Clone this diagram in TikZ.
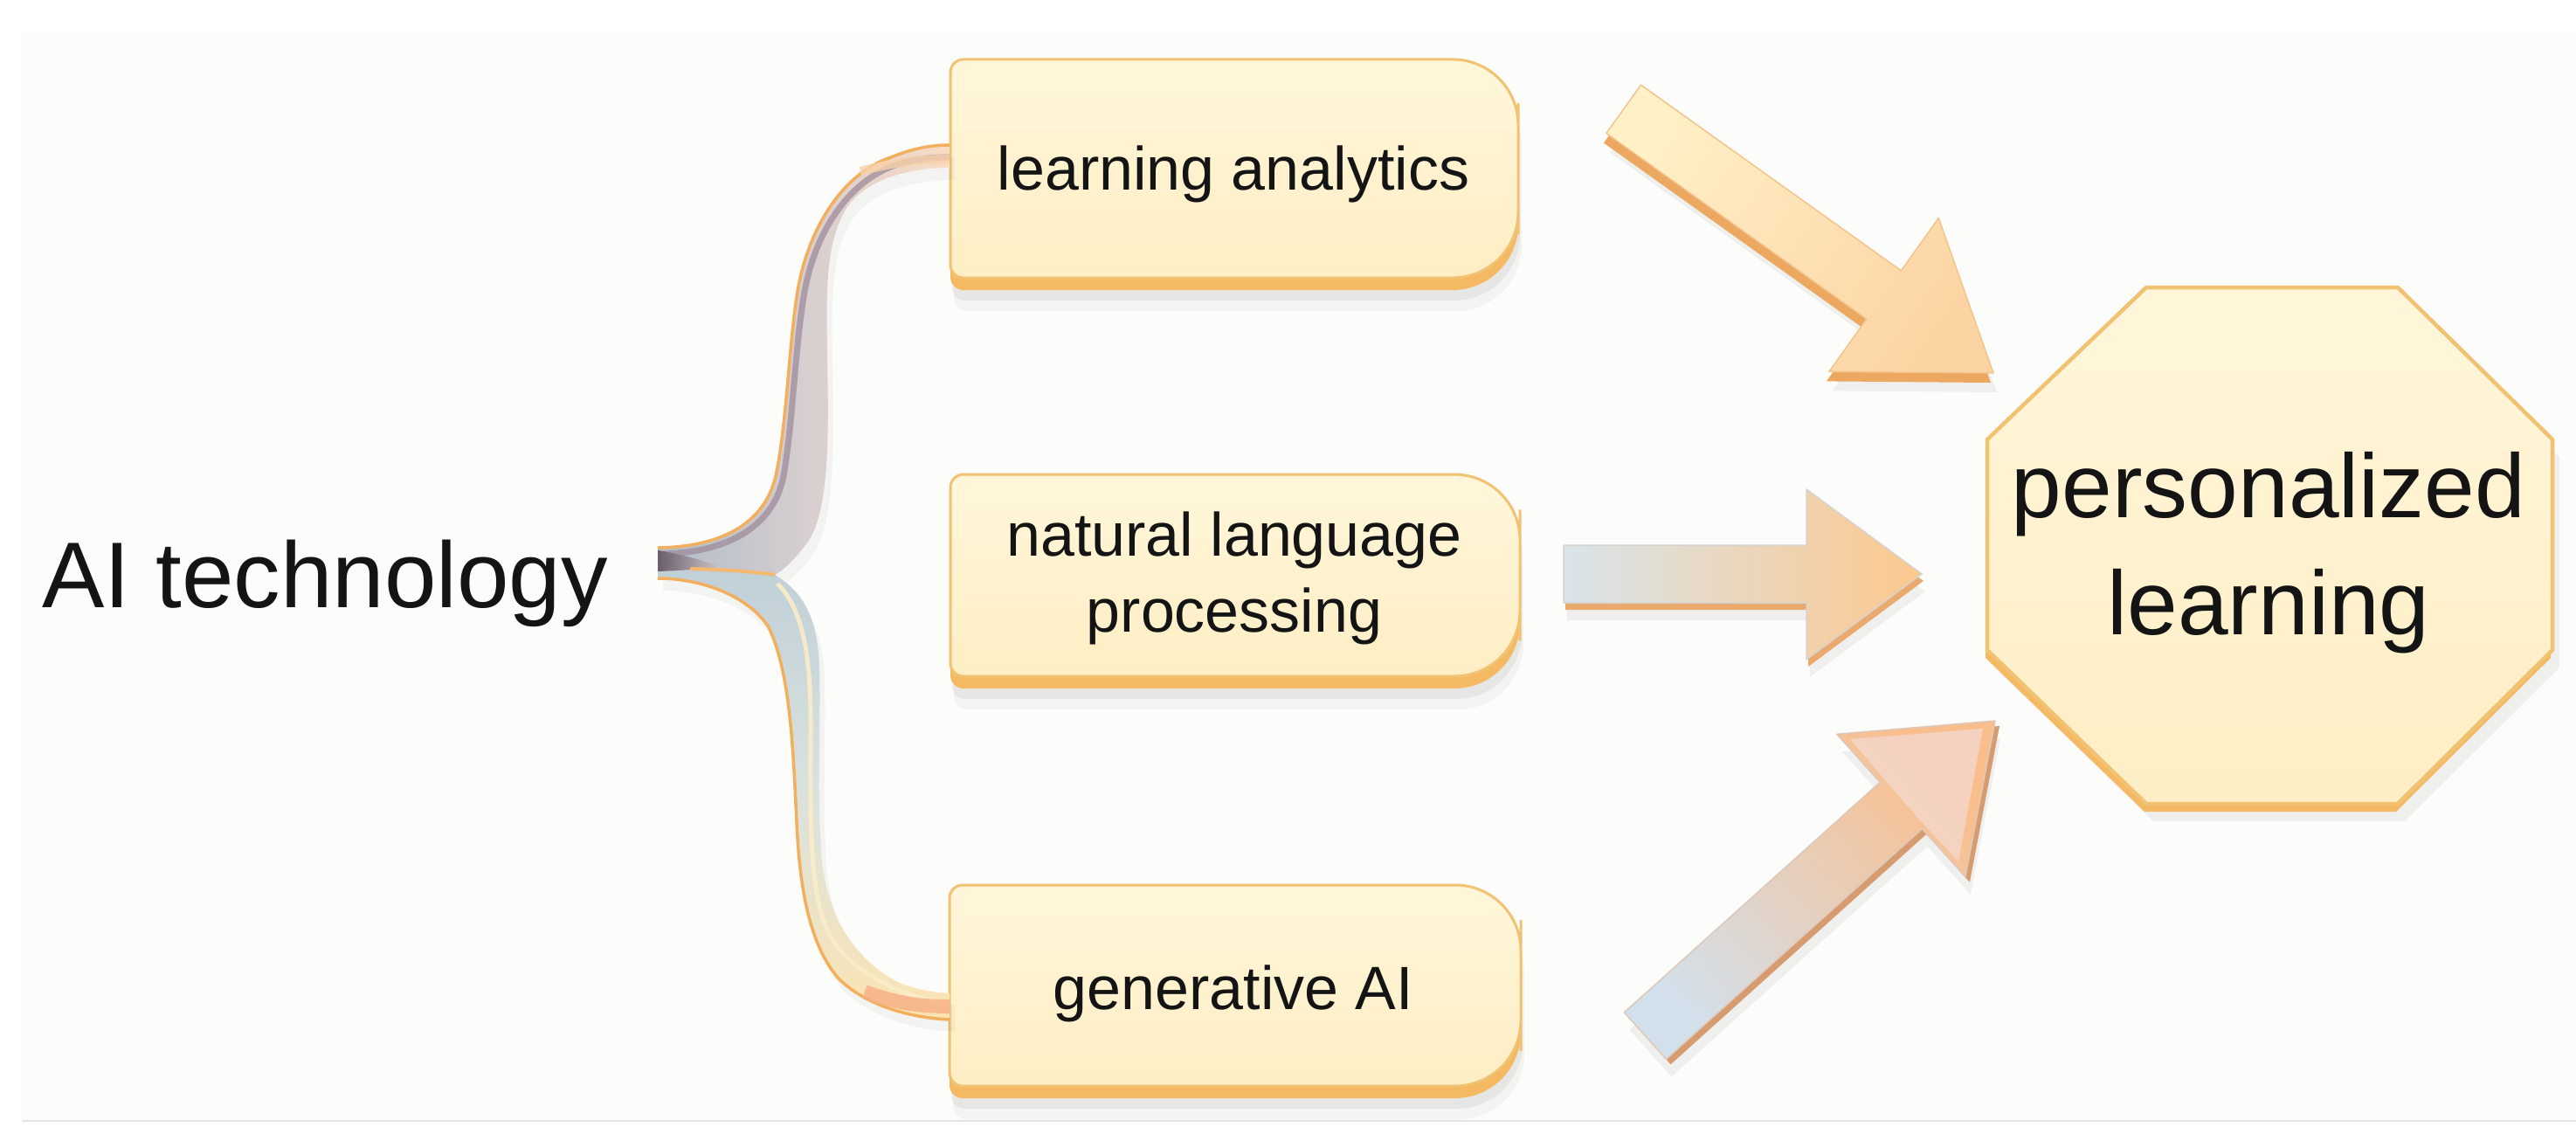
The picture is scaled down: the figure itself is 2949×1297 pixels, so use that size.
\documentclass[tikz,border=0pt]{standalone}
\usepackage{fontspec}
\setmainfont{Liberation Sans}
\usetikzlibrary{calc}
\definecolor{bgtint}{HTML}{FCFCFB}
\definecolor{bline}{HTML}{E3E3E3}
\definecolor{txt}{HTML}{141414}
\definecolor{facetop}{HTML}{FFF6DA}
\definecolor{facebot}{HTML}{FEEEC4}
\definecolor{faceedge}{HTML}{F0C272}
\definecolor{facebase}{HTML}{F6B963}
\definecolor{facehl}{HTML}{FFFBEF}
\definecolor{ribor}{HTML}{F2B05E}
\definecolor{ribAl}{RGB}{176,188,200}
\definecolor{ribAm}{RGB}{214,206,208}
\definecolor{ribAr}{RGB}{248,220,196}
\definecolor{ribBt}{RGB}{192,208,216}
\definecolor{ribBm}{RGB}{218,226,222}
\definecolor{ribBb}{RGB}{252,228,178}
\definecolor{ribmauve}{RGB}{160,140,156}
\definecolor{ribcream}{RGB}{250,236,200}
\definecolor{ribsalmon}{RGB}{248,170,130}
\definecolor{ribpeach}{RGB}{250,210,170}
\definecolor{tipdark}{RGB}{105,92,108}
\definecolor{tiplight}{RGB}{214,206,210}
\definecolor{tiporange}{RGB}{244,184,110}
\definecolor{aAbase}{RGB}{236,168,96}
\definecolor{aAtail}{RGB}{255,240,198}
\definecolor{aAtip}{RGB}{252,212,164}
\definecolor{aAedge}{RGB}{244,196,140}
\definecolor{aBbase}{RGB}{234,170,110}
\definecolor{aBtail}{RGB}{216,228,234}
\definecolor{aBmid}{RGB}{246,230,206}
\definecolor{aBtip}{RGB}{253,200,142}
\definecolor{aBedge}{RGB}{214,210,206}
\definecolor{aCbase}{RGB}{214,156,112}
\definecolor{aCtail}{RGB}{210,224,236}
\definecolor{aCmid}{RGB}{252,230,190}
\definecolor{aCtip}{RGB}{250,190,140}
\definecolor{aCedge}{RGB}{222,200,186}
\definecolor{aChead}{RGB}{244,214,200}
\newcommand\rrpath[4]{(#1,{(#2+#4)/2}) [rounded corners=0.15cm] |- ({(#1+#3)/2},#2) [rounded corners=0.75cm] -| (#3,{(#2+#4)/2}) |- ({(#1+#3)/2},#4) [rounded corners=0.15cm] -| (#1,{(#2+#4)/2}) -- cycle}
\newcommand\mybox[4]{%
  \pgfmathsetmacro\myyb{#4-14}%
  \begin{scope}[shift={(4,24)}]\fill[black,opacity=0.035] \rrpath{#1}{#2}{#3}{#4};\end{scope}
  \begin{scope}[shift={(2,12)}]\fill[black,opacity=0.05] \rrpath{#1}{#2}{#3}{#4};\end{scope}
  \fill[facebase] \rrpath{#1}{#2}{#3}{#4};
  \path[top color=facetop,bottom color=facebot,draw=faceedge,line width=0.03cm] \rrpath{#1}{#2}{#3}{\myyb};
}
\tikzset{
  boxtxt/.style={font=\fontsize{19.9}{24.5}\selectfont, align=center, inner sep=0pt, text=txt},
  bigtxt/.style={font=\fontsize{30.4}{37}\selectfont, align=center, inner sep=0pt, text=txt},
  shadowfill/.style={black,opacity=0.05}
}
\begin{document}
\begin{tikzpicture}[x=0.01cm,y=-0.01cm]
\useasboundingbox (0,0) rectangle (2949,1297);
\fill[white] (0,0) rectangle (2949,1297);
\fill[bgtint] (25,38) rectangle (2949,1282);
\draw[bline,line width=0.025cm] (25,1283) -- (2949,1283);

% ---------- boxes ----------
\mybox{1088}{68}{1738}{332}
\mybox{1088}{543}{1740}{788}
\mybox{1087}{1013}{1741}{1257}

% ---------- octagon ----------
\begin{scope}[shift={(8,20)}]
\fill[black,opacity=0.05] (2457,329) -- (2745,329) -- (2922,503) -- (2922,744) -- (2745,920) -- (2457,920) -- (2275,744) -- (2275,503) -- cycle;
\end{scope}
\begin{scope}[shift={(-2,9)}]
\fill[facebase] (2457,329) -- (2745,329) -- (2922,503) -- (2922,744) -- (2745,920) -- (2457,920) -- (2275,744) -- (2275,503) -- cycle;
\end{scope}
\path[top color=facetop,bottom color=facebot,draw=faceedge,line width=0.045cm,line join=round]
 (2457,329) -- (2745,329) -- (2922,503) -- (2922,744) -- (2745,920) -- (2457,920) -- (2275,744) -- (2275,503) -- cycle;

% ---------- brace ----------
\begin{scope}[shift={(6,14)}]
\fill[black,opacity=0.035] (753,627) .. controls (825,626) and (875,600) .. (888,545) .. controls (900,490) and (903,400) .. (912,340) .. controls (922,270) and (960,200) .. (1020,180) .. controls (1045,170) and (1065,166) .. (1087,166) -- (1087,192) .. controls (1040,192) and (990,205) .. (968,240) .. controls (945,280) and (946,330) .. (947,400) .. controls (948,480) and (952,580) .. (925,620) .. controls (910,640) and (898,652) .. (887,658) .. controls (915,675) and (935,700) .. (938,760) .. controls (940,830) and (935,900) .. (940,975) .. controls (945,1050) and (980,1100) .. (1030,1125) .. controls (1050,1133) and (1070,1136) .. (1087,1137) -- (1087,1167) .. controls (1040,1165) and (990,1150) .. (960,1120) .. controls (925,1080) and (915,1010) .. (912,940) .. controls (908,860) and (905,770) .. (880,718) .. controls (855,680) and (800,662) .. (753,662) -- cycle;
\end{scope}
% top branch
\path[left color=ribAl, right color=ribAr, middle color=ribAm]
 (753,627) .. controls (825,626) and (875,600) .. (888,545) .. controls (900,490) and (903,400) .. (912,340) .. controls (922,270) and (960,200) .. (1020,180) .. controls (1045,170) and (1065,166) .. (1087,166) -- (1087,192) .. controls (1040,192) and (990,205) .. (968,240) .. controls (945,280) and (946,330) .. (947,400) .. controls (948,480) and (952,580) .. (925,620) .. controls (910,640) and (898,652) .. (887,658) .. controls (840,652) and (790,649) .. (753,648) -- cycle;
% bottom branch
\path[top color=ribBt, bottom color=ribBb, middle color=ribBm]
 (753,648) .. controls (800,650) and (850,652) .. (887,658) .. controls (915,675) and (935,700) .. (938,760) .. controls (940,830) and (935,900) .. (940,975) .. controls (945,1050) and (980,1100) .. (1030,1125) .. controls (1050,1133) and (1070,1136) .. (1087,1137) -- (1087,1167) .. controls (1040,1165) and (990,1150) .. (960,1120) .. controls (925,1080) and (915,1010) .. (912,940) .. controls (908,860) and (905,770) .. (880,718) .. controls (855,680) and (800,662) .. (753,662) -- cycle;
% strands
\draw[ribmauve,opacity=0.75,line width=0.07cm]
 (760,634) .. controls (830,632) and (885,605) .. (897,545) .. controls (908,480) and (910,400) .. (920,340) .. controls (930,275) and (965,212) .. (1022,190) .. controls (1045,182) and (1065,180) .. (1087,180);
\draw[ribor,line width=0.035cm]
 (753,627) .. controls (825,626) and (875,600) .. (888,545) .. controls (900,490) and (903,400) .. (912,340) .. controls (922,270) and (960,200) .. (1020,180) .. controls (1045,170) and (1065,166) .. (1087,166);
\draw[ribor,line width=0.035cm]
 (753,662) .. controls (800,662) and (855,680) .. (880,718) .. controls (905,770) and (908,860) .. (912,940) .. controls (915,1010) and (925,1080) .. (960,1120) .. controls (990,1150) and (1040,1165) .. (1087,1167);
\draw[ribcream,line width=0.05cm,opacity=0.9]
 (890,668) .. controls (922,700) and (928,760) .. (928,830) .. controls (928,920) and (925,1010) .. (945,1060) .. controls (965,1110) and (1030,1140) .. (1087,1150);
\draw[ribsalmon,line width=0.16cm,opacity=0.75]
 (990,1135) .. controls (1030,1150) and (1060,1152) .. (1087,1152);
\draw[ribpeach,line width=0.1cm,opacity=0.8]
 (985,196) .. controls (1030,184) and (1060,182) .. (1087,182);
% tip
\path[left color=tipdark, right color=tiplight]
 (753,630) -- (753,654) .. controls (780,653) and (805,651) .. (830,650) .. controls (805,642) and (780,634) .. (753,630) -- cycle;
\draw[tiporange,line width=0.04cm]
 (790,651) .. controls (830,652) and (860,654) .. (887,658);

% ---------- fat arrows ----------
% top arrow
\begin{scope}[shift={(4,22)}]
\fill[shadowfill] (1878.5,97.2) -- (2176.4,309.8) -- (2219.3,249.6) -- (2282,427) -- (2093.9,425.4) -- (2136.8,365.2) -- (1838.9,152.6) -- cycle;
\end{scope}
\begin{scope}[shift={(-3,11)}]
\fill[aAbase] (1878.5,97.2) -- (2176.4,309.8) -- (2219.3,249.6) -- (2282,427) -- (2093.9,425.4) -- (2136.8,365.2) -- (1838.9,152.6) -- cycle;
\end{scope}
\path[top color=aAtail, bottom color=aAtip, shading angle=54.5, draw=aAedge, line width=0.015cm, line join=round]
 (1878.5,97.2) -- (2176.4,309.8) -- (2219.3,249.6) -- (2282,427) -- (2093.9,425.4) -- (2136.8,365.2) -- (1838.9,152.6) -- cycle;
% middle arrow
\begin{scope}[shift={(4,20)}]
\fill[shadowfill] (1790,624) -- (2068,624) -- (2068,560) -- (2200,657) -- (2068,755) -- (2068,690) -- (1790,690) -- cycle;
\end{scope}
\begin{scope}[shift={(2,8)}]
\fill[aBbase] (1790,624) -- (2068,624) -- (2068,560) -- (2200,657) -- (2068,755) -- (2068,690) -- (1790,690) -- cycle;
\end{scope}
\path[left color=aBtail, middle color=aBmid, right color=aBtip, draw=aBedge, line width=0.015cm, line join=round]
 (1790,624) -- (2068,624) -- (2068,560) -- (2200,657) -- (2068,755) -- (2068,690) -- (1790,690) -- cycle;
% bottom arrow
\begin{scope}[shift={(6,20)}]
\fill[shadowfill] (1859.4,1158.9) -- (2152.2,895.3) -- (2102.7,840.3) -- (2284,825) -- (2249.9,1003.7) -- (2200.4,948.7) -- (1907.6,1212.3) -- cycle;
\end{scope}
\begin{scope}[shift={(5,6)}]
\fill[aCbase] (1859.4,1158.9) -- (2152.2,895.3) -- (2102.7,840.3) -- (2284,825) -- (2249.9,1003.7) -- (2200.4,948.7) -- (1907.6,1212.3) -- cycle;
\end{scope}
\path[top color=aCtail, middle color=aCmid, bottom color=aCtip, shading angle=132, draw=aCedge, line width=0.015cm, line join=round]
 (1859.4,1158.9) -- (2152.2,895.3) -- (2102.7,840.3) -- (2284,825) -- (2249.9,1003.7) -- (2200.4,948.7) -- (1907.6,1212.3) -- cycle;
\fill[aChead,opacity=0.85] (2118,846) -- (2270,834) -- (2242,986) -- (2190,930) -- cycle;

% ---------- texts ----------
\node[bigtxt, anchor=base] (ai) at (372,695) {AI technology};
\node[boxtxt, anchor=base] (la) at (1412,218) {learning analytics};
\node[boxtxt, anchor=base] (nlp) at (1413,723) {natural language\\processing};
\node[boxtxt, anchor=base] (gai) at (1412,1155) {generative AI};
\node[font=\fontsize{29.5}{38}\selectfont, align=center, inner sep=0pt, text=txt, anchor=base] (pl) at (2597,726) {personalized\\learning};
\end{tikzpicture}
\end{document}
